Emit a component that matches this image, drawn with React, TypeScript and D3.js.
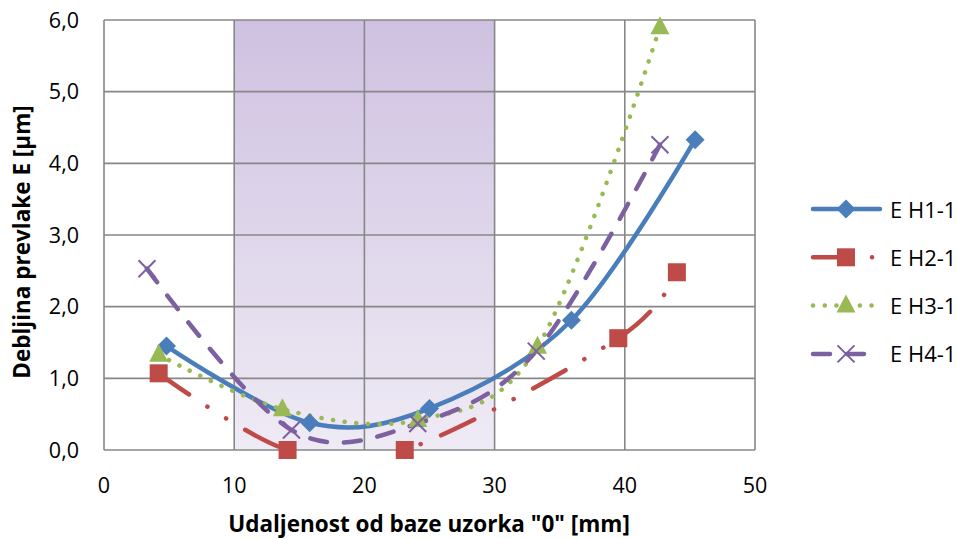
import React, { useEffect, useRef } from 'react';
import * as d3 from 'd3';

// measured thickness vs distance from sample base
const seriesNames = ['E H1-1', 'E H2-1', 'E H3-1', 'E H4-1'];
const xH1 = [4.8, 15.8, 25.0, 35.9, 45.4];
const yH1 = [1.45, 0.38, 0.58, 1.81, 4.33];
const xH2 = [4.2, 14.1, 23.1, 39.5, 44.0];
const yH2 = [1.07, 0.0, 0.0, 1.56, 2.48];
const xH3 = [4.2, 13.7, 24.1, 33.3, 42.7];
const yH3 = [1.33, 0.57, 0.42, 1.44, 5.9];
const xH4 = [3.3, 14.4, 24.1, 33.2, 42.7];
const yH4 = [2.53, 0.28, 0.37, 1.38, 4.26];

const xTicks = [0, 10, 20, 30, 40, 50];
const yTicks = [0, 1, 2, 3, 4, 5, 6];
const shadedRange = [10, 30];

const W = 962;
const H = 539;
const FONT = '"Open Sans", sans-serif';

interface Style {
  color: string;
  width: number;
  dash: string;
  marker: 'diamond' | 'square' | 'triangle' | 'x';
}

const styles: Style[] = [
  { color: '#4A7EBB', width: 4.5, dash: '', marker: 'diamond' },
  { color: '#BE4B48', width: 4.5, dash: '37 22 0.1 22 0.1 22', marker: 'square' },
  { color: '#98B954', width: 4.5, dash: '0.1 11.6', marker: 'triangle' },
  { color: '#7D60A0', width: 4.5, dash: '17 17', marker: 'x' }
];

const drawMarker = (
  g: d3.Selection<SVGGElement, unknown, null, undefined>,
  kind: Style['marker'],
  cx: number,
  cy: number,
  color: string
) => {
  if (kind === 'diamond') {
    const s = 9.5;
    g.append('path')
      .attr('d', `M${cx},${cy - s}L${cx + s},${cy}L${cx},${cy + s}L${cx - s},${cy}Z`)
      .attr('fill', color);
  } else if (kind === 'square') {
    g.append('rect')
      .attr('x', cx - 9)
      .attr('y', cy - 9)
      .attr('width', 18)
      .attr('height', 18)
      .attr('fill', color);
  } else if (kind === 'triangle') {
    g.append('path')
      .attr('d', `M${cx},${cy - 11}L${cx + 9.5},${cy + 7}L${cx - 9.5},${cy + 7}Z`)
      .attr('fill', color);
  } else {
    const s = 8.5;
    g.append('path')
      .attr('d', `M${cx - s},${cy - s}L${cx + s},${cy + s}M${cx - s},${cy + s}L${cx + s},${cy - s}`)
      .attr('stroke', color)
      .attr('stroke-width', 2)
      .attr('fill', 'none');
  }
};

const App: React.FC = () => {
  const svgRef = useRef<SVGSVGElement>(null);

  useEffect(() => {
    if (!svgRef.current) return;
    const svg = d3.select(svgRef.current);
    svg.selectAll('*').remove();

    const left = 104, right = 755, top = 20, bottom = 450;
    const x = d3.scaleLinear().domain([0, 50]).range([left, right]);
    const y = d3.scaleLinear().domain([0, 6]).range([bottom, top]);

    const defs = svg.append('defs');
    const grad = defs.append('linearGradient')
      .attr('id', 'band')
      .attr('x1', 0).attr('y1', 0).attr('x2', 0).attr('y2', 1);
    grad.append('stop').attr('offset', '0%').attr('stop-color', '#CFC1E1');
    grad.append('stop').attr('offset', '100%').attr('stop-color', '#EFEBF5');
    defs.append('clipPath').attr('id', 'plotClip')
      .append('rect')
      .attr('x', left).attr('y', top)
      .attr('width', right - left).attr('height', bottom - top);

    svg.append('rect')
      .attr('width', W).attr('height', H).attr('fill', '#fff');

    // shaded zone
    svg.append('rect')
      .attr('x', x(shadedRange[0]))
      .attr('y', top)
      .attr('width', x(shadedRange[1]) - x(shadedRange[0]))
      .attr('height', bottom - top)
      .attr('fill', 'url(#band)');

    // grid
    const grid = svg.append('g').attr('stroke', '#878787').attr('stroke-width', 1.6);
    yTicks.forEach(t => {
      grid.append('line')
        .attr('x1', left).attr('x2', right)
        .attr('y1', y(t)).attr('y2', y(t));
    });
    xTicks.forEach(t => {
      grid.append('line')
        .attr('x1', x(t)).attr('x2', x(t))
        .attr('y1', top).attr('y2', bottom);
    });

    // tick labels
    svg.append('g').selectAll('text')
      .data(yTicks)
      .enter()
      .append('text')
      .attr('x', 79)
      .attr('y', d => y(d) + 7.5)
      .attr('text-anchor', 'end')
      .style('font-family', FONT)
      .style('font-size', '21.5px')
      .attr('fill', '#000')
      .text(d => d3.format('.1f')(d).replace('.', ','));

    svg.append('g').selectAll('text')
      .data(xTicks)
      .enter()
      .append('text')
      .attr('x', d => x(d))
      .attr('y', 493)
      .attr('text-anchor', 'middle')
      .style('font-family', FONT)
      .style('font-size', '21.5px')
      .attr('fill', '#000')
      .text(d => String(d));

    // axis titles
    svg.append('text')
      .attr('x', 429)
      .attr('y', 532)
      .attr('text-anchor', 'middle')
      .style('font-family', FONT)
      .style('font-size', '22.5px')
      .style('font-weight', 'bold')
      .text('Udaljenost od baze uzorka "0" [mm]');

    svg.append('text')
      .attr('transform', 'translate(30,242) rotate(-90)')
      .attr('text-anchor', 'middle')
      .style('font-family', FONT)
      .style('font-size', '22.5px')
      .style('font-weight', 'bold')
      .text('Debljina prevlake E [µm]');

    // series
    const xs = [xH1, xH2, xH3, xH4];
    const ys = [yH1, yH2, yH3, yH4];
    const line = d3.line<[number, number]>()
      .x(d => x(d[0]))
      .y(d => y(d[1]))
      .curve(d3.curveCatmullRom.alpha(0));

    const lines = svg.append('g').attr('clip-path', 'url(#plotClip)');
    const marks = svg.append('g');
    xs.forEach((sx, i) => {
      const pts = sx.map((v, j) => [v, ys[i][j]] as [number, number]);
      const st = styles[i];
      lines.append('path')
        .attr('d', line(pts))
        .attr('fill', 'none')
        .attr('stroke', st.color)
        .attr('stroke-width', st.width)
        .attr('stroke-linecap', 'round')
        .attr('stroke-linejoin', 'round')
        .attr('stroke-dasharray', st.dash || null);
    });
    xs.forEach((sx, i) => {
      const st = styles[i];
      sx.forEach((v, j) => drawMarker(marks, st.marker, x(v), y(ys[i][j]), st.color));
    });

    // legend
    const legend = svg.append('g');
    seriesNames.forEach((name, i) => {
      const st = styles[i];
      const ly = 209 + i * 48.3;
      legend.append('line')
        .attr('x1', 813).attr('x2', 880)
        .attr('y1', ly).attr('y2', ly)
        .attr('stroke', st.color)
        .attr('stroke-width', st.width)
        .attr('stroke-linecap', 'round')
        .attr('stroke-dasharray', st.dash || null);
      drawMarker(legend, st.marker, 846, ly, st.color);
      legend.append('text')
        .attr('x', 890)
        .attr('y', ly + 8.5)
        .style('font-family', FONT)
        .style('font-size', '22px')
        .text(name);
    });
  }, []);

  return (
    <div style={{ position: 'absolute', left: 0, top: 0 }}>
      <svg ref={svgRef} width={W} height={H}></svg>
    </div>
  );
};

export default App;
